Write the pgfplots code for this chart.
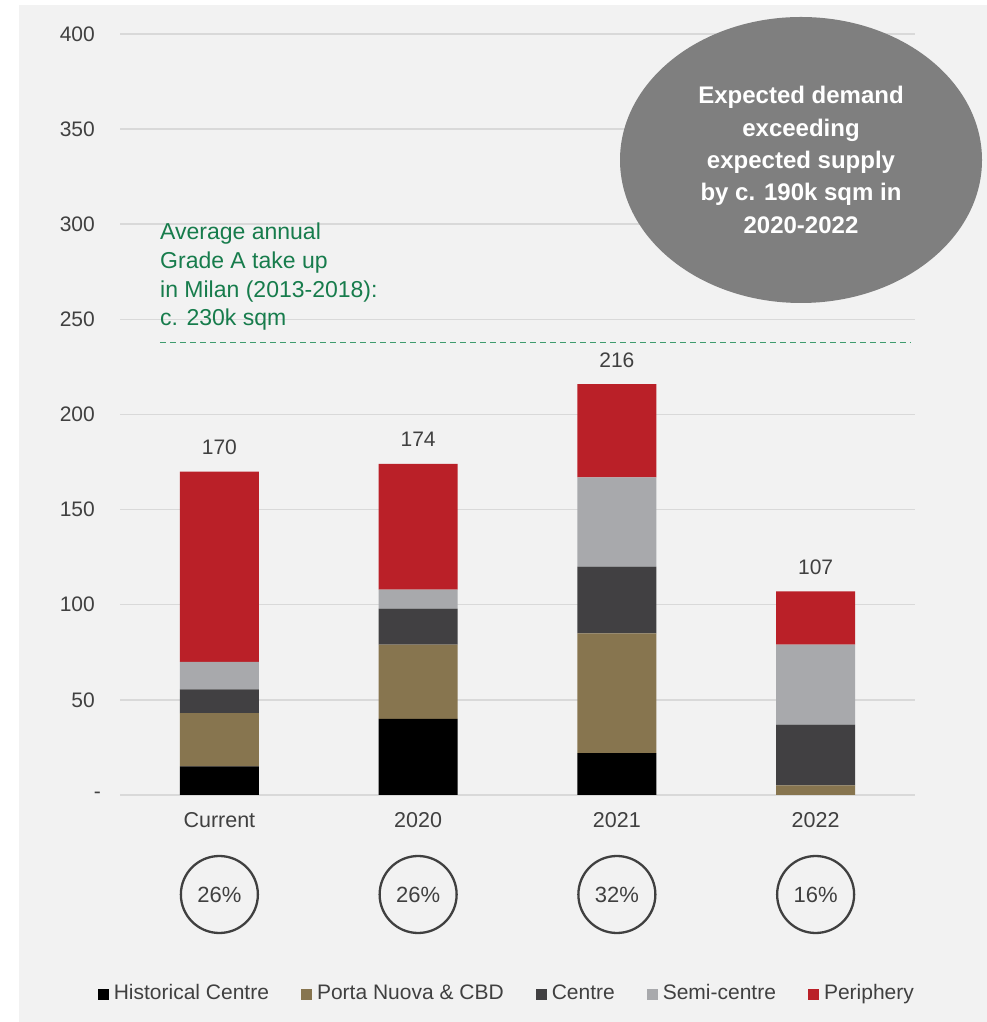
\documentclass[border=0pt]{standalone}
\usepackage{pgfplots}
\pgfplotsset{compat=1.18}
\usepackage{fontspec}
\setmainfont{Liberation Sans}
\definecolor{bgc}{HTML}{F2F2F2}
\definecolor{gridc}{HTML}{D9D9D9}
\definecolor{tickc}{HTML}{404040}
\definecolor{cBlack}{HTML}{000000}
\definecolor{cBrown}{HTML}{87754F}
\definecolor{cDark}{HTML}{414042}
\definecolor{cSemi}{HTML}{A8A9AC}
\definecolor{cRed}{HTML}{BA2028}
\definecolor{greenc}{RGB}{23,124,76}
\definecolor{dashc}{RGB}{62,155,110}
\definecolor{ellc}{HTML}{7F7F7F}
\tikzset{pct/.style={circle, draw=tickc, line width=2.3pt, minimum size=77pt, inner sep=0pt, text=tickc, font=\fontsize{22}{26}\selectfont}}

\begin{document}
\begin{tikzpicture}
\fill[white] (0pt,0pt) rectangle (987pt,1022pt);
\useasboundingbox (0pt,0pt) rectangle (987pt,1022pt);
\fill[bgc] (19pt,0pt) rectangle (987pt,1017pt);
\begin{axis}[
  at={(120pt,227pt)}, anchor=south west,
  scale only axis, width=795pt, height=761pt,
  ymin=0, ymax=400, xmin=-0.5, xmax=3.5,
  enlargelimits=false,
  ybar stacked, bar width=79pt,
  axis line style={draw=none},
  major tick length=0pt,
  ytick={0,50,100,150,200,250,300,350,400},
  yticklabels={{-\kern-6pt},50,100,150,200,250,300,350,400},
  xtick={0,1,2,3},
  xticklabels={Current,2020,2021,2022},
  ymajorgrids,
  grid style={draw=gridc, line width=1.5pt},
  yticklabel style={font=\fontsize{21}{25}\selectfont, text=tickc, inner sep=0pt, anchor=east, xshift=-25pt},
  xticklabel style={font=\fontsize{21.5}{25}\selectfont, text=tickc, inner sep=0pt, anchor=base, yshift=-33pt},
  clip=false,
  every axis plot/.append style={legend image code/.code={\fill[##1] (0pt,0pt) rectangle (11pt,11pt);}},
  legend style={at={(0.4885,-0.2615)}, anchor=center, draw=none, fill=none,
    legend columns=5, font=\fontsize{21}{24}\selectfont, text=tickc,
    cells={anchor=base west},
    /tikz/every even column/.append style={column sep=27pt},
    nodes={inner xsep=5pt, inner ysep=0pt, text height=15pt, text depth=4pt}},
]
\addplot[fill=cBlack, draw=none] coordinates {(0,15) (1,40) (2,22) (3,0)};
\addlegendentry{Historical Centre}
\addplot[fill=cBrown, draw=none] coordinates {(0,28) (1,39) (2,63) (3,5)};
\addlegendentry{Porta Nuova \& CBD}
\addplot[fill=cDark, draw=none] coordinates {(0,12.5) (1,19) (2,35) (3,32)};
\addlegendentry{Centre}
\addplot[fill=cSemi, draw=none] coordinates {(0,14.5) (1,10) (2,47) (3,42)};
\addlegendentry{Semi-centre}
\addplot[fill=cRed, draw=none] coordinates {(0,100) (1,66) (2,49) (3,28)};
\addlegendentry{Periphery}
\node[pct] at (axis cs:0,-52.3) {26\%};
\node[pct] at (axis cs:1,-52.3) {26\%};
\node[pct] at (axis cs:2,-52.3) {32\%};
\node[pct] at (axis cs:3,-52.3) {16\%};
\end{axis}
\begin{axis}[
  at={(120pt,227pt)}, anchor=south west,
  scale only axis, width=795pt, height=761pt,
  ymin=0, ymax=400, xmin=-0.5, xmax=3.5,
  enlargelimits=false, hide axis, clip=false,
  every node near coord/.append style={font=\fontsize{21}{25}\selectfont, text=tickc, anchor=base, inner sep=0pt, yshift=17pt},
]
\addplot[dashc, line width=1.3pt, dash pattern=on 6pt off 4pt] coordinates {(-0.299,238) (3.475,238)};
\addplot[draw=none, mark=none, nodes near coords, point meta=explicit symbolic] coordinates {(0,170)[170] (1,174)[174] (2,216)[216] (3,107)[107]};
\end{axis}
\fill[ellc] (801pt,862pt) ellipse [x radius=181pt, y radius=143pt];
\node[text=white, font=\bfseries\fontsize{24}{32.3}\selectfont, align=center, inner sep=0pt] at (801pt,862pt) {Expected demand\\exceeding\\expected supply\\by c. 190k sqm in\\2020-2022};
\begin{scope}[every node/.style={anchor=base west, inner sep=0pt, text=greenc, font=\fontsize{23}{28}\selectfont}]
\node at (160pt,782pt) {Average annual};
\node at (160pt,753pt) {Grade A take up};
\node at (160pt,724.5pt) {in Milan (2013-2018):};
\node at (160pt,696pt) {c. 230k sqm};
\end{scope}
\end{tikzpicture}
\end{document}
